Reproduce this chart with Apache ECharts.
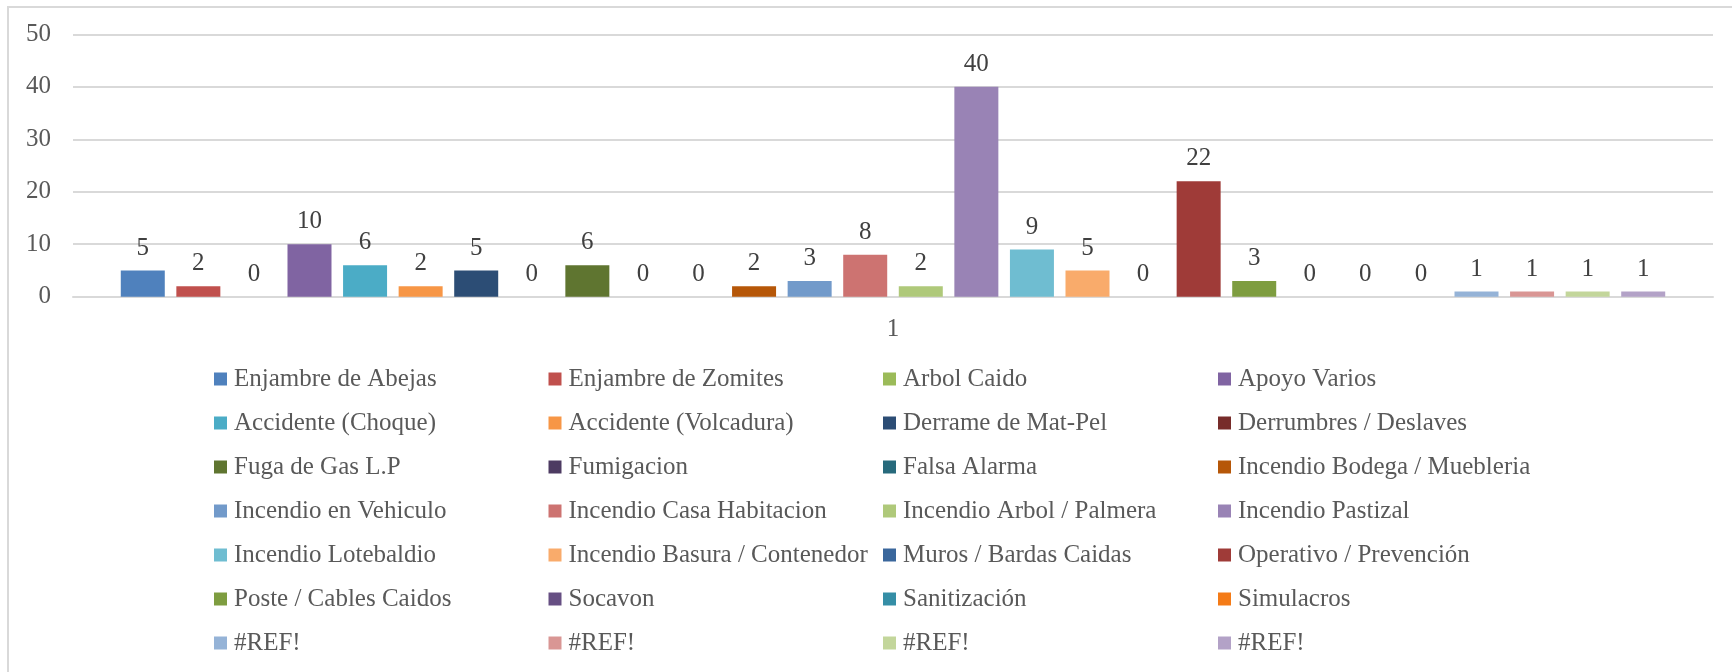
<!DOCTYPE html>
<html>
<head>
<meta charset="utf-8">
<script src="https://cdn.jsdelivr.net/npm/echarts@6/dist/echarts.min.js"></script>
<style>
  html, body { margin: 0; padding: 0; background: #ffffff; }
  #chart { width: 1732px; height: 672px; }
</style>
</head>
<body>
<div id="chart"></div>
<script>
const categories = ['1'];

const seriesNames = [
  'Enjambre de Abejas', 'Enjambre de Zomites', 'Arbol Caido', 'Apoyo Varios',
  'Accidente (Choque)', 'Accidente (Volcadura)', 'Derrame de Mat-Pel', 'Derrumbres / Deslaves',
  'Fuga de Gas L.P', 'Fumigacion', 'Falsa Alarma', 'Incendio Bodega / Muebleria',
  'Incendio en Vehiculo', 'Incendio Casa Habitacion', 'Incendio Arbol / Palmera', 'Incendio Pastizal',
  'Incendio Lotebaldio', 'Incendio Basura / Contenedor', 'Muros / Bardas Caidas', 'Operativo / Prevención',
  'Poste / Cables Caidos', 'Socavon', 'Sanitización', 'Simulacros',
  '#REF!', '#REF!', '#REF!', '#REF!'
];

const seriesValues = [
  5, 2, 0, 10,
  6, 2, 5, 0,
  6, 0, 0, 2,
  3, 8, 2, 40,
  9, 5, 0, 22,
  3, 0, 0, 0,
  1, 1, 1, 1
];

const seriesColors = [
  '#4F81BD', '#C0504D', '#9BBB59', '#8064A2',
  '#4BACC6', '#F79646', '#2C4D75', '#772C2A',
  '#5F7530', '#4D3B62', '#276A7C', '#B65708',
  '#729ACA', '#CD7371', '#AFC97A', '#9983B5',
  '#6FBDD1', '#F9AB6B', '#3A679C', '#9F3B38',
  '#7E9D40', '#664F83', '#358EA6', '#F47B17',
  '#95B3D7', '#D99694', '#C3D69B', '#B3A2C7'
];

const yTicks = { min: 0, max: 50, interval: 10 };

const FONT = '"Liberation Serif", "Times New Roman", serif';
const uid = (name, i) => name + '__' + i;

const series = seriesNames.map((name, i) => ({
  type: 'bar',
  name: uid(name, i),
  data: [seriesValues[i]],
  barWidth: 44,
  barGap: '26.3%',
  itemStyle: { color: seriesColors[i] },
  label: {
    show: true,
    position: 'top',
    distance: 10,
    color: '#404040',
    fontSize: 25,
    fontFamily: FONT
  }
}));

const colLefts = [214, 548.5, 883, 1218];
const legends = colLefts.map((left, c) => ({
  orient: 'vertical',
  left: left,
  top: 357,
  itemGap: 0,
  itemWidth: 13,
  itemHeight: 13,
  icon: 'rect',
  padding: 0,
  selectedMode: false,
  data: seriesNames.map((n, i) => uid(n, i)).filter((_, i) => i % 4 === c),
  formatter: (n) => n.split('__')[0],
  textStyle: {
    color: '#595959',
    fontSize: 25,
    fontFamily: FONT,
    lineHeight: 44,
    padding: [0, 0, 0, 2]
  }
}));

const chart = echarts.init(document.getElementById('chart'), null, { renderer: 'canvas' });
chart.setOption({
  animation: false,
  backgroundColor: '#ffffff',
  graphic: [{
    type: 'rect',
    shape: { x: 8, y: 7, width: 1900, height: 900 },
    style: { fill: 'none', stroke: '#d9d9d9', lineWidth: 2 },
    silent: true,
    z: -10
  }],
  grid: { left: 73, right: 19, top: 34.3, bottom: 375.3, containLabel: false },
  legend: legends,
  xAxis: {
    type: 'category',
    data: categories,
    axisLine: { show: true, lineStyle: { color: '#d9d9d9', width: 2 } },
    axisTick: { show: false },
    axisLabel: { color: '#595959', fontSize: 25, fontFamily: FONT, margin: 20 }
  },
  yAxis: {
    type: 'value',
    min: yTicks.min,
    max: yTicks.max,
    interval: yTicks.interval,
    axisLine: { show: false },
    axisTick: { show: false },
    splitLine: { lineStyle: { color: '#d9d9d9', width: 2 } },
    axisLabel: { color: '#595959', fontSize: 25, fontFamily: FONT, margin: 22 }
  },
  series: series
});
</script>
</body>
</html>
